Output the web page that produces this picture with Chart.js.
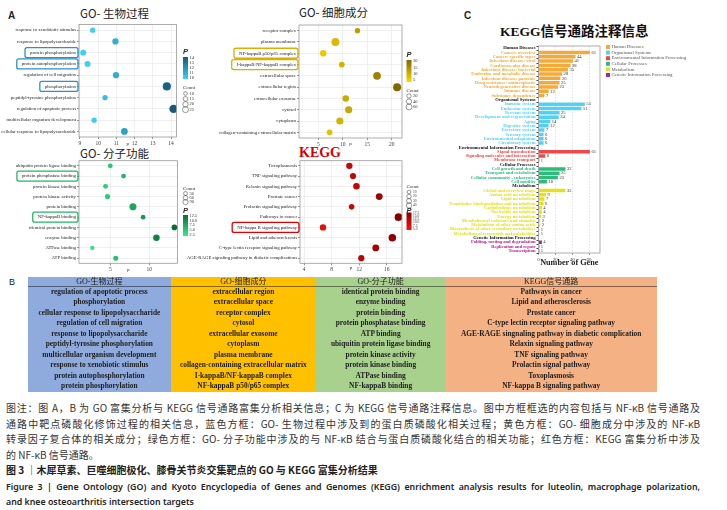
<!DOCTYPE html>
<html>
<head>
<meta charset="utf-8">
<title>GO / KEGG enrichment</title>
<script src="https://cdn.jsdelivr.net/npm/chart.js@4.4.1/dist/chart.umd.min.js"></script>
<style>
  body { margin: 0; background: #fff; }
  #page { position: relative; width: 727px; height: 510px; overflow: hidden; background: #fff; }
  #page canvas, .t { position: absolute; }
  .t { white-space: nowrap; }
  .goTitle { font-family: "Noto Sans CJK SC", sans-serif; font-size: 11.5px; line-height: 11.5px; color: #222; }
  .panel { font-family: "Liberation Sans", sans-serif; font-weight: bold; font-size: 10px; line-height: 10px; color: #222; }
  #tbl { position: absolute; left: 28px; top: 276.5px; border-collapse: collapse; table-layout: fixed; width: 629px;
         font-family: "Liberation Serif", "Noto Sans CJK SC", serif; color: #1e1e1e; }
  #tbl th { font-weight: normal; font-size: 8px; height: 9.5px; line-height: 9.5px; padding: 0; border-bottom: 1px solid rgba(0,0,0,.45); }
  #tbl td { font-weight: bold; font-size: 7.4px; height: 10.45px; line-height: 10.45px; padding: 0; text-align: center; white-space: nowrap; }
  .c0 { background: #8faadc; } .c1 { background: #ffc000; } .c2 { background: #a9d18e; } .c3 { background: #f4b183; }
  .cap { position: absolute; left: 6px; width: 694px; font-family: "Noto Sans CJK SC", sans-serif; font-size: 10px; line-height: 10px; color: #333; white-space: nowrap; }
  .just { text-align: justify; text-align-last: justify; }
</style>
</head>
<body>
<div id="page">
  <div class="t panel" style="left:8px;top:11px">A</div>
  <div class="t goTitle" style="left:80px;top:7.5px">GO- 生物过程</div>
  <div class="t goTitle" style="left:299px;top:7px">GO- 细胞成分</div>
  <div class="t goTitle" style="left:80px;top:147.5px">GO- 分子功能</div>
  <div class="t" style="left:299px;top:145.5px;font-family:'Liberation Serif',serif;font-weight:bold;font-size:14px;line-height:14px;color:#d40000">KEGG</div>
  <div class="t panel" style="left:464px;top:11px">C</div>
  <div class="t" style="left:500px;top:25px;font-family:'Liberation Serif','Noto Sans CJK SC',serif;font-weight:bold;font-size:13.5px;line-height:14px;color:#111">KEGG信号通路注释信息</div>
  <div class="t panel" style="left:9px;top:277px;font-weight:normal;font-size:9px">B</div>

  <canvas id="bp" width="200" height="150" style="left:0;top:0"></canvas>
  <canvas id="cc" width="240" height="150" style="left:200px;top:0"></canvas>
  <canvas id="mf" width="200" height="125" style="left:0;top:150px"></canvas>
  <canvas id="kegg" width="270" height="125" style="left:170px;top:150px"></canvas>
  <canvas id="anno" width="287" height="240" style="left:440px;top:38px"></canvas>

  <table id="tbl"></table>

  <div class="cap just" style="top:403px">图注：图 A，B 为 GO 富集分析与 KEGG 信号通路富集分析相关信息；C 为 KEGG 信号通路注释信息。图中方框框选的内容包括与 NF-κB 信号通路及</div>
  <div class="cap just" style="top:418.5px">通路中靶点磷酸化修饰过程的相关信息，蓝色方框：GO- 生物过程中涉及到的蛋白质磷酸化相关过程；黄色方框：GO- 细胞成分中涉及的 NF-κB</div>
  <div class="cap just" style="top:434px">转录因子复合体的相关成分；绿色方框：GO- 分子功能中涉及的与 NF-κB 结合与蛋白质磷酸化结合的相关功能；红色方框：KEGG 富集分析中涉及</div>
  <div class="cap" style="top:449.5px">的 NF-κB 信号通路。</div>
  <div class="cap" style="top:465px;color:#222;font-weight:bold">图 3 ｜木犀草素、巨噬细胞极化、膝骨关节炎交集靶点的 GO 与 KEGG 富集分析结果</div>
  <div class="cap just" style="top:482px;font-family:'Noto Sans',sans-serif;font-size:8.8px;color:#222;font-weight:600">Figure 3 | Gene Ontology (GO) and Kyoto Encyclopedia of Genes and Genomes (KEGG) enrichment analysis results for luteolin, macrophage polarization,</div>
  <div class="cap" style="top:497px;font-family:'Noto Sans',sans-serif;font-size:8.8px;color:#222;font-weight:600">and knee osteoarthritis intersection targets</div>
</div>

<script>
// ---------- A: GO 生物过程 ----------
const bpTerms = ['response to xenobiotic stimulus', 'response to lipopolysaccharide', 'protein phosphorylation',
  'protein autophosphorylation', 'regulation of cell migration', 'phosphorylation', 'peptidyl-tyrosine phosphorylation',
  'regulation of apoptotic process', 'multicellular organism development', 'cellular response to lipopolysaccharide'];
const bpP = [9.7, 10.95, 9.18, 9.42, 10.98, 13.77, 10.38, 14.14, 9.78, 11.44];
const bpCount = [10, 13, 12, 12, 13, 23, 10, 25, 10, 15];
const bpTicks = [9, 10, 11, 12, 13, 14];
const bpPTicks = [14, 13, 12, 11, 10];
const bpCountTicks = [10, 15, 20, 25];
const bpBoxed = ['protein phosphorylation', 'protein autophosphorylation', 'phosphorylation'];

// ---------- A: GO 细胞成分 ----------
const ccTerms = ['receptor complex', 'plasma membrane', 'NF-kappaB p50/p65 complex', 'I-kappaB/NF-kappaB complex',
  'extracellular space', 'extracellular region', 'extracellular exosome', 'cytosol', 'cytoplasm',
  'collagen-containing extracellular matrix'];
const ccP = [13.0, 8.5, 6.0, 9.8, 17.0, 21.1, 10.6, 11.2, 9.4, 7.3];
const ccCount = [10, 48, 22, 14, 45, 50, 24, 34, 32, 14];
const ccTicks = [5, 10, 15, 20];
const ccPTicks = [20, 15, 10, 5];
const ccCountTicks = [20, 40, 60];
const ccBoxed = ['NF-kappaB p50/p65 complex', 'I-kappaB/NF-kappaB complex'];

// ---------- A: GO 分子功能 ----------
const mfTerms = ['ubiquitin protein ligase binding', 'protein phosphatase binding', 'protein kinase binding',
  'protein kinase activity', 'protein binding', 'NF-kappaB binding', 'identical protein binding', 'enzyme binding',
  'ATPase binding', 'ATP binding'];
const mfP = [5.0, 6.7, 4.4, 4.65, 7.9, 9.2, 13.2, 10.9, 2.7, 5.7];
const mfCount = [14, 13, 15, 18, 75, 12, 30, 55, 8, 17];
const mfTicks = [5, 10];
const mfPTicks = [12.5, 10, 7.5, 5, 2.5];
const mfCountTicks = [30, 60, 90];
const mfBoxed = ['protein phosphatase binding', 'NF-kappaB binding'];

// ---------- A: KEGG ----------
const keggTerms = ['Toxoplasmosis', 'TNF signaling pathway', 'Relaxin signaling pathway', 'Prostate cancer',
  'Prolactin signaling pathway', 'Pathways in cancer', 'NF-kappa B signaling pathway', 'Lipid and atherosclerosis',
  'C-type lectin receptor signaling pathway', 'AGE-RAGE signaling pathway in diabetic complications'];
const keggP = [10.57, 11.1, 11.6, 14.9, 10.9, 17.7, 6.75, 16.8, 14.4, 12.3];
const keggCount = [20, 18, 22, 26, 12, 40, 20, 36, 26, 18];
const keggTicks = [4, 8, 12, 16];
const keggPTicks = [17.5, 15, 12.5, 10, 7.5, 5];
const keggCountTicks = [10, 20, 30, 40];
const keggBoxed = ['NF-kappa B signaling pathway'];

// ---------- B: 表格 ----------
const tblHead = ['GO-生物过程', 'GO-细胞成分', 'GO-分子功能', 'KEGG信号通路'];
const tblBP = ['regulation of apoptotic process', 'phosphorylation', 'cellular response to lipopolysaccharide',
  'regulation of cell migration', 'response to lipopolysaccharide', 'peptidyl-tyrosine phosphorylation',
  'multicellular organism development', 'response to xenobiotic stimulus', 'protein autophosphorylation',
  'protein phosphorylation'];
const tblCC = ['extracellular region', 'extracellular space', 'receptor complex', 'cytosol', 'extracellular exosome',
  'cytoplasm', 'plasma membrane', 'collagen-containing extracellular matrix', 'I-kappaB/NF-kappaB complex',
  'NF-kappaB p50/p65 complex'];
const tblMF = ['identical protein binding', 'enzyme binding', 'protein binding', 'protein phosphatase binding',
  'ATP binding', 'ubiquitin protein ligase binding', 'protein kinase activity', 'protein kinase binding',
  'ATPase binding', 'NF-kappaB binding'];
const tblKEGG = ['Pathways in cancer', 'Lipid and atherosclerosis', 'Prostate cancer',
  'C-type lectin receptor signaling pathway', 'AGE-RAGE singnaling pathway in diabetic complication',
  'Relaxin signaling pathway', 'TNF signaling pathway', 'Prolactin signal pathway', 'Toxoplasmosis',
  'NF-kappa B signaling pathway'];

// ---------- C: KEGG 注释 ----------
const cGroups = ['Human Diseases', 'Organismal Systems', 'Environmental Information Processing',
  'Cellular Processes', 'Metabolism', 'Genetic Information Processing'];
const cTerms = [
  ['Cancer: overview', 'Cancer: specific types', 'Infectious disease: viral', 'Cardiovascular disease',
   'Infectious disease: bacterial', 'Endocrine and metabolic disease', 'Infectious disease: parasitic',
   'Drug resistance: antineoplastic', 'Neurodegenerative disease', 'Immune disease', 'Substance dependence'],
  ['Immune system', 'Endocrine system', 'Nervous system', 'Development and regeneration', 'Aging',
   'Digestive system', 'Excretory system', 'Sensory system', 'Environmental adaptation', 'Circulatory system'],
  ['Signal transduction', 'Signaling molecules and interaction', 'Membrane transport'],
  ['Cell growth and death', 'Transport and catabolism', 'Cellular community - eukaryotes', 'Cell motility'],
  ['Global and overview maps', 'Amino acid metabolism', 'Lipid metabolism', 'Xenobiotics biodegradation and metabolism',
   'Carbohydrate metabolism', 'Nucleotide metabolism', 'Energy metabolism', 'Metabolism of cofactors and vitamins',
   'Metabolism of other amino acids', 'Biosynthesis of other secondary metabolites',
   'Metabolism of terpenoids and polyketides'],
  ['Folding, sorting and degradation', 'Replication and repair', 'Transcription']
];
const cGenes = [
  [61, 44, 41, 38, 35, 28, 26, 25, 23, 12, 7],
  [55, 51, 25, 24, 14, 12, 7, 6, 6, 6],
  [61, 8, 1],
  [32, 25, 23, 10],
  [32, 9, 7, 6, 4, 4, 3, 2, 2, 1, 1],
  [4, 1, 1]
];
const cTicks = [0, 20, 40, 60];
const cColors = ['#f4a93b', '#55d0f2', '#f04848', '#2dbb7b', '#e4e01c', '#b5208f'];

// ---------- helpers ----------
function hex2rgb(h) { return [1, 3, 5].map(i => parseInt(h.slice(i, i + 2), 16)); }
function mix(lo, hi, t) {
  t = Math.max(0, Math.min(1, t));
  const a = hex2rgb(lo), b = hex2rgb(hi);
  return 'rgb(' + a.map((v, i) => Math.round(v + (b[i] - v) * t)).join(',') + ')';
}
function radiusFor(c, cDom, rDom) {
  const t = Math.max(0, Math.min(1, (c - cDom[0]) / (cDom[1] - cDom[0])));
  return rDom[0] + (rDom[1] - rDom[0]) * Math.sqrt(t);
}

const frame = {
  id: 'frame',
  afterDraw(chart) {
    const a = chart.chartArea, ctx = chart.ctx;
    ctx.save();
    ctx.strokeStyle = '#9a9a9a'; ctx.lineWidth = 0.8;
    ctx.strokeRect(a.left, a.top, a.right - a.left, a.bottom - a.top);
    ctx.restore();
  }
};

// 方框
const labelBoxes = {
  id: 'labelBoxes',
  afterDraw(chart, args, o) {
    if (!o.terms) return;
    const ys = chart.scales.y, ctx = chart.ctx;
    ctx.save();
    ctx.font = '4.8px "Liberation Serif"';
    ctx.strokeStyle = o.color; ctx.lineWidth = 1.3;
    o.terms.forEach(t => {
      const y = ys.getPixelForValue(ys.getLabels().indexOf(t));
      const w = ctx.measureText(t).width;
      const x1 = ys.right - 1, x0 = x1 - w - 7;
      ctx.beginPath();
      ctx.roundRect(x0, y - 5, x1 - x0, 10, 2);
      ctx.stroke();
    });
    ctx.restore();
  }
};

// P 色条 + Count 图例
const sideKey = {
  id: 'sideKey',
  afterDraw(chart, args, o) {
    const ctx = chart.ctx;
    ctx.save();
    ctx.textBaseline = 'middle'; ctx.textAlign = 'left';
    ctx.font = 'italic bold 7.5px "Liberation Sans"'; ctx.fillStyle = '#2a2a2a';
    ctx.fillText('P', o.x, o.pTitleY);
    const g = ctx.createLinearGradient(0, o.barTop + o.barH, 0, o.barTop);
    g.addColorStop(0, o.lo); g.addColorStop(1, o.hi);
    ctx.fillStyle = g; ctx.fillRect(o.x, o.barTop, 5, o.barH);
    ctx.font = o.tickFont; ctx.fillStyle = '#333';
    o.pTicks.forEach(v => {
      const y = o.barTop + o.barH * (o.pDom[1] - v) / (o.pDom[1] - o.pDom[0]);
      ctx.fillText(v.toFixed(o.dec), o.x + 6.5, y);
    });
    ctx.font = '5px "Liberation Serif"';
    ctx.fillText('Count', o.x, o.cTitleY);
    ctx.strokeStyle = '#333'; ctx.lineWidth = 0.5;
    o.cTicks.forEach((c, i) => {
      const y = o.cY0 + i * o.cStep;
      ctx.beginPath();
      ctx.arc(o.x + 2.5, y, 0.7 * radiusFor(c, o.cDom, o.rDom), 0, Math.PI * 2);
      ctx.stroke();
      ctx.font = o.tickFont;
      ctx.fillText(String(c), o.x + 6.5, y);
    });
    ctx.restore();
  }
};

function drawBubble(id, s) {
  const colours = s.p.map(v => mix(s.lo, s.hi, (v - s.pDom[0]) / (s.pDom[1] - s.pDom[0])));
  const points = s.terms.map((t, i) => ({ x: s.p[i], y: t, r: radiusFor(s.count[i], s.cDom, s.rDom) }));
  const key = Object.assign({ lo: s.lo, hi: s.hi, pDom: s.pDom, cDom: s.cDom, rDom: s.rDom,
    pTicks: s.pTicks, cTicks: s.cTicks }, s.key);
  return new Chart(document.getElementById(id), {
    type: 'bubble',
    data: { datasets: [{ data: points, backgroundColor: colours, borderWidth: 0 }] },
    options: {
      responsive: false, animation: false, events: [],
      layout: { padding: s.pad },
      plugins: { legend: { display: false }, tooltip: { enabled: false }, sideKey: key, labelBoxes: s.boxes },
      scales: {
        x: {
          type: 'linear', min: s.xMin, max: s.xMax,
          afterBuildTicks: sc => { sc.ticks = s.xTicks.map(v => ({ value: v })); },
          afterFit: sc => { sc.height = s.xH; },
          grid: { color: '#ebebeb', lineWidth: 0.8, tickLength: 2, tickColor: '#777' },
          border: { display: false },
          ticks: { color: '#444', font: { family: 'Liberation Serif', size: 5.5 }, padding: 1, maxRotation: 0 },
          title: { display: true, text: 'p', color: '#333', font: { family: 'Liberation Serif', size: 5 },
                   padding: { top: 0, bottom: s.tPad } }
        },
        y: {
          type: 'category', labels: s.terms, offset: true,
          afterFit: sc => { sc.width = s.yW; },
          grid: { color: '#ebebeb', lineWidth: 0.8, tickLength: 2, tickColor: '#777' },
          border: { display: false },
          ticks: { color: '#222', font: { family: 'Liberation Serif', size: 4.8 }, padding: 1, autoSkip: false }
        }
      }
    },
    plugins: [frame, sideKey, labelBoxes]
  });
}

drawBubble('bp', {
  terms: bpTerms, p: bpP, count: bpCount, xTicks: bpTicks, pTicks: bpPTicks, cTicks: bpCountTicks,
  xMin: 8.95, xMax: 14.3, lo: '#3ccffa', hi: '#145a7c', pDom: [9.7, 14.1], cDom: [8, 26], rDom: [1.8, 4.3],
  yW: 79, xH: 13, tPad: 3.5, pad: { left: 0, right: 23.5, top: 24.5, bottom: 0 },
  boxes: { terms: bpBoxed, color: '#2b93c4' },
  key: { x: 183, pTitleY: 52, barTop: 57, barH: 22, cTitleY: 88, cY0: 93.5, cStep: 5.4, dec: 0, tickFont: '4.5px "Liberation Serif"' }
});

drawBubble('cc', {
  terms: ccTerms, p: ccP, count: ccCount, xTicks: ccTicks, pTicks: ccPTicks, cTicks: ccCountTicks,
  xMin: 1.05, xMax: 22.1, lo: '#ffd900', hi: '#7f6a00', pDom: [3.5, 20.8], cDom: [5, 65], rDom: [2.0, 4.3],
  yW: 99, xH: 12, tPad: 3, pad: { left: 0, right: 38, top: 25, bottom: 0 },
  boxes: { terms: ccBoxed, color: '#d8b000' },
  key: { x: 206.5, pTitleY: 55, barTop: 60, barH: 22, cTitleY: 91, cY0: 96, cStep: 5.5, dec: 0, tickFont: '4.5px "Liberation Serif"' }
});

drawBubble('mf', {
  terms: mfTerms, p: mfP, count: mfCount, xTicks: mfTicks, pTicks: mfPTicks, cTicks: mfCountTicks,
  xMin: 1.0, xMax: 13.6, lo: '#36ec8e', hi: '#0b6b3a', pDom: [1.7, 13.0], cDom: [5, 100], rDom: [1.8, 3.8],
  yW: 79, xH: 11.7, tPad: 2.7, pad: { left: 0, right: 22.5, top: 10.7, bottom: 0 },
  boxes: { terms: mfBoxed, color: '#1fb866' },
  key: { x: 183, cTitleY: 39, cY0: 43.5, cStep: 4.3, pTitleY: 61, barTop: 65, barH: 21, dec: 1, tickFont: '4.3px "Liberation Serif"' }
});

drawBubble('kegg', {
  terms: keggTerms, p: keggP, count: keggCount, xTicks: keggTicks, pTicks: keggPTicks, cTicks: keggCountTicks,
  xMin: 3.42, xMax: 18.2, lo: '#ff1010', hi: '#850000', pDom: [4.0, 17.9], cDom: [5, 45], rDom: [1.9, 4.0],
  yW: 130, xH: 11.7, tPad: 4.7, pad: { left: 0, right: 38, top: 10.7, bottom: 0 },
  boxes: { terms: keggBoxed, color: '#e00000' },
  key: { x: 236.5, cTitleY: 37, cY0: 42, cStep: 4.5, pTitleY: 60.5, barTop: 62.5, barH: 17.5, dec: 1, tickFont: '3.6px "Liberation Serif"' }
});

// ---------- B ----------
(function buildTable() {
  const cols = [tblBP, tblCC, tblMF, tblKEGG];
  const widths = [142.7, 145.3, 129.3, 211.7];
  let html = '<colgroup>' + widths.map(w => `<col style="width:${w}px">`).join('') + '</colgroup>';
  html += '<tr>' + tblHead.map((h, i) => `<th class="c${i}">${h}</th>`).join('') + '</tr>';
  for (let r = 0; r < tblBP.length; r++) {
    html += '<tr>' + cols.map((c, i) => `<td class="c${i}">${c[r]}</td>`).join('') + '</tr>';
  }
  document.getElementById('tbl').innerHTML = html;
})();

// ---------- C ----------
const cLabels = [], cRowGroup = [], cIsHead = [];
cGroups.forEach((g, gi) => {
  cLabels.push(g); cRowGroup.push(gi); cIsHead.push(true);
  cTerms[gi].forEach(t => { cLabels.push(t); cRowGroup.push(gi); cIsHead.push(false); });
});

const barValues = {
  id: 'barValues',
  afterDatasetsDraw(chart) {
    const ctx = chart.ctx;
    ctx.save();
    ctx.font = '4.6px "Liberation Serif"'; ctx.fillStyle = '#333'; ctx.textBaseline = 'middle';
    chart.data.datasets.forEach((ds, di) => {
      chart.getDatasetMeta(di).data.forEach((bar, i) => {
        if (ds.data[i] == null) return;
        ctx.fillText(String(ds.data[i]), bar.x + 1.5, bar.y);
      });
    });
    ctx.restore();
  }
};

const groupKey = {
  id: 'groupKey',
  afterDraw(chart, args, o) {
    const ctx = chart.ctx;
    ctx.save();
    ctx.font = '4.8px "Liberation Serif"'; ctx.textBaseline = 'middle';
    chart.data.datasets.forEach((ds, i) => {
      const y = o.y + i * o.step;
      ctx.fillStyle = ds.backgroundColor; ctx.fillRect(o.x, y - 2, 4, 4);
      ctx.fillStyle = '#555'; ctx.fillText(ds.label, o.x + 5.5, y);
    });
    ctx.restore();
  }
};

new Chart(document.getElementById('anno'), {
  type: 'bar',
  data: {
    labels: cLabels,
    datasets: cGroups.map((g, gi) => ({
      label: g,
      data: cLabels.map(l => { const j = cTerms[gi].indexOf(l); return j < 0 ? null : cGenes[gi][j]; }),
      backgroundColor: cColors[gi],
      grouped: false, barPercentage: 0.8, categoryPercentage: 1
    }))
  },
  options: {
    indexAxis: 'y', responsive: false, animation: false, events: [],
    layout: { padding: { left: 0, right: 127, top: 8, bottom: 0 } },
    plugins: { legend: { display: false }, tooltip: { enabled: false }, groupKey: { x: 166, y: 9, step: 5.6 } },
    scales: {
      x: {
        min: 0, max: 73,
        afterBuildTicks: sc => { sc.ticks = cTicks.map(v => ({ value: v })); },
        afterFit: sc => { sc.height = 25; },
        grid: { color: '#cfcfcf', lineWidth: 0.6, tickLength: 2, tickColor: '#666' },
        border: { display: false, dash: [1.5, 1.5] },
        ticks: { color: '#333', font: { family: 'Liberation Serif', size: 5 }, padding: 1.5, maxRotation: 0 },
        title: { display: true, text: 'Number of Gene', color: '#222',
                 font: { family: 'Liberation Serif', size: 8.2, weight: 'bold' }, padding: { top: 0, bottom: 10.4 } }
      },
      y: {
        afterFit: sc => { sc.width = 98.5; },
        grid: { drawOnChartArea: false, tickLength: 2, tickColor: '#444' },
        border: { display: false },
        ticks: {
          autoSkip: false, padding: 1,
          color: c => cIsHead[c.index] ? '#111' : cColors[cRowGroup[c.index]],
          font: { family: 'Liberation Serif', size: 4.6, weight: 'bold' }
        }
      }
    }
  },
  plugins: [frame, barValues, groupKey]
});
</script>
</body>
</html>
